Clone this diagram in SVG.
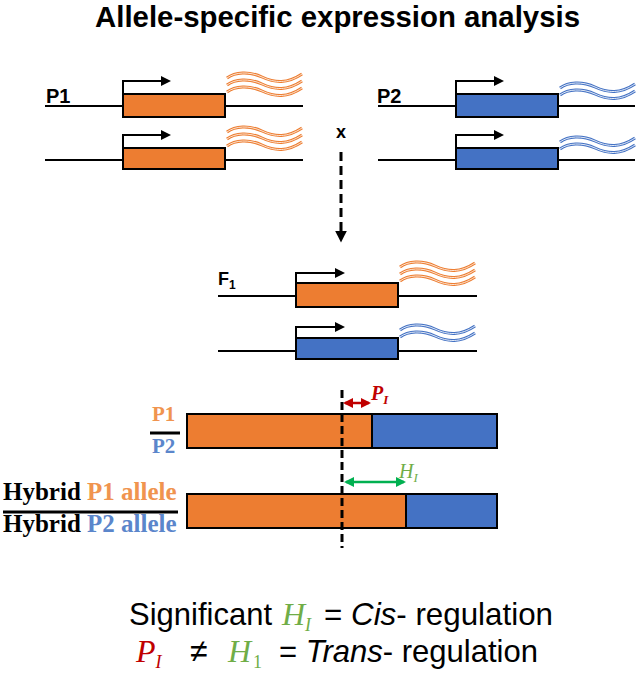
<svg xmlns="http://www.w3.org/2000/svg" xmlns:xlink="http://www.w3.org/1999/xlink" width="640" height="674" viewBox="0 0 640 674">
<defs>
<style>
.dna{stroke:#000;stroke-width:2;fill:none}
.box{stroke:#000;stroke-width:2}
.or{fill:#ED7D31}
.bl{fill:#4472C4}
.prom{stroke:#000;stroke-width:2;fill:none}
.wo{stroke:#ED7D31;stroke-width:3;fill:none}
.wo2{stroke:#FCE4D2;stroke-width:1;fill:none}
.wb{stroke:#4472C4;stroke-width:3;fill:none}
.wb2{stroke:#E1E9F6;stroke-width:1;fill:none}
.sans{font-family:"Liberation Sans",Arial,sans-serif}
.serif{font-family:"Liberation Serif","Times New Roman",serif}
.lbl{font-family:"Liberation Sans",Arial,sans-serif;font-weight:bold;font-size:20px}
.bar{font-family:"Liberation Serif","Times New Roman",serif;font-weight:bold}
.big{font-family:"Liberation Sans",Arial,sans-serif;font-size:32px}
.mi{font-family:"Liberation Serif","Times New Roman",serif;font-style:italic;font-size:32px}
.sub{font-size:18px}
</style>
<marker id="ah" viewBox="0 0 10 10" refX="2" refY="5" markerWidth="5" markerHeight="5" orient="auto" markerUnits="strokeWidth">
<path d="M0,0L10,5L0,10z" fill="#000"/>
</marker>
<marker id="ahd" viewBox="0 0 10 10" refX="2" refY="5" markerWidth="4" markerHeight="4" orient="auto" markerUnits="strokeWidth">
<path d="M0,0L10,5L0,10z" fill="#000"/>
</marker>
<marker id="ar" viewBox="0 0 10 10" refX="8" refY="5" markerWidth="4" markerHeight="4" orient="auto-start-reverse" markerUnits="strokeWidth">
<path d="M0,0L10,5L0,10z" fill="#C00000"/>
</marker>
<marker id="ag" viewBox="0 0 10 10" refX="8" refY="5" markerWidth="4" markerHeight="4" orient="auto-start-reverse" markerUnits="strokeWidth">
<path d="M0,0L10,5L0,10z" fill="#00B050"/>
</marker>
<path id="w" d="M0,5 C8,-1 22,-2 35,4 S60,11 75,1"/>
<g id="wo3">
<use xlink:href="#w" class="wo"/><use xlink:href="#w" class="wo2"/>
<use xlink:href="#w" class="wo" y="7"/><use xlink:href="#w" class="wo2" y="7"/>
<use xlink:href="#w" class="wo" y="14"/><use xlink:href="#w" class="wo2" y="14"/>
</g>
<g id="wb2g">
<use xlink:href="#w" class="wb"/><use xlink:href="#w" class="wb2"/>
<use xlink:href="#w" class="wb" y="7"/><use xlink:href="#w" class="wb2" y="7"/>
</g>
</defs>
<rect width="640" height="674" fill="#fff"/>

<text class="sans" x="95" y="27" font-size="30" font-weight="bold" textLength="485" lengthAdjust="spacingAndGlyphs">Allele-specific expression analysis</text>

<g id="p1">
<text class="lbl" x="46" y="103">P1</text>
<line class="dna" x1="45" y1="106" x2="303" y2="106"/>
<rect class="box or" x="123" y="94" width="102" height="23"/>
<path class="prom" d="M123,94V81H163" marker-end="url(#ah)"/>
<use xlink:href="#wo3" x="227" y="73"/>
<line class="dna" x1="45" y1="160" x2="303" y2="160"/>
<rect class="box or" x="123" y="148" width="102" height="21"/>
<path class="prom" d="M123,148V135H163" marker-end="url(#ah)"/>
<use xlink:href="#wo3" x="227" y="127"/>
</g>

<g id="p2">
<text class="lbl" x="377" y="103">P2</text>
<line class="dna" x1="378" y1="106" x2="635" y2="106"/>
<rect class="box bl" x="456" y="94" width="102" height="23"/>
<path class="prom" d="M456,94V81H496" marker-end="url(#ah)"/>
<use xlink:href="#wb2g" x="560" y="83"/>
<line class="dna" x1="378" y1="160" x2="635" y2="160"/>
<rect class="box bl" x="456" y="148" width="102" height="21"/>
<path class="prom" d="M456,148V135H496" marker-end="url(#ah)"/>
<use xlink:href="#wb2g" x="560" y="137"/>
</g>

<g id="cross">
<text class="lbl" x="336" y="138" style="font-size:18px">x</text>
</g>

<g id="connectors">
<line x1="341" y1="152" x2="341" y2="233" stroke="#000" stroke-width="3" stroke-dasharray="9,5" marker-end="url(#ahd)"/>
</g>

<g id="f1">
<text class="lbl" x="218" y="285" style="font-size:18px">F<tspan style="font-size:12px" dy="4">1</tspan></text>
<line class="dna" x1="218" y1="296" x2="477" y2="296"/>
<rect class="box or" x="296" y="283" width="102" height="24"/>
<path class="prom" d="M296,283V273H337" marker-end="url(#ah)"/>
<use xlink:href="#wo3" x="400" y="262"/>
<line class="dna" x1="218" y1="351" x2="477" y2="351"/>
<rect class="box bl" x="296" y="338" width="102" height="21"/>
<path class="prom" d="M296,338V327H337" marker-end="url(#ah)"/>
<use xlink:href="#wb2g" x="400" y="325"/>
</g>

<g id="parent-bar">
<text class="bar" x="152" y="421" font-size="21" fill="#F0944F">P1</text>
<line x1="150" y1="433" x2="180" y2="433" stroke="#000" stroke-width="3"/>
<text class="bar" x="152" y="453" font-size="21" fill="#5B86CB">P2</text>
<rect class="box or" x="187" y="414" width="185" height="34"/>
<rect class="box bl" x="372" y="414" width="125" height="34"/>
<line x1="345" y1="403" x2="369" y2="403" stroke="#C00000" stroke-width="2.5" marker-start="url(#ar)" marker-end="url(#ar)"/>
<text class="serif" x="371" y="400" font-size="20" font-style="italic" font-weight="bold" fill="#C00000">P<tspan font-size="13" dy="4">I</tspan></text>
</g>

<g id="hybrid-bar">
<text class="bar" x="3" y="500" font-size="25"><tspan fill="#000">Hybrid </tspan><tspan fill="#F0944F">P1 allele</tspan></text>
<line x1="3" y1="512" x2="178" y2="512" stroke="#000" stroke-width="3"/>
<text class="bar" x="3" y="532" font-size="25"><tspan fill="#000">Hybrid </tspan><tspan fill="#5B86CB">P2 allele</tspan></text>
<rect class="box or" x="187" y="494" width="219" height="34"/>
<rect class="box bl" x="406" y="494" width="91" height="34"/>
<line x1="346" y1="482" x2="404" y2="482" stroke="#00B050" stroke-width="2.5" marker-start="url(#ag)" marker-end="url(#ag)"/>
<text class="serif" x="399" y="478" font-size="20" font-style="italic" fill="#70AD47">H<tspan font-size="13" dy="4">I</tspan></text>
</g>

<g id="divider">
<line x1="342" y1="390" x2="342" y2="548" stroke="#000" stroke-width="3" stroke-dasharray="8,4"/>
</g>

<g id="caption">
<text class="big" x="129" y="625" textLength="143" lengthAdjust="spacingAndGlyphs">Significant</text>
<text class="mi" x="282" y="625" fill="#70AD47">H<tspan class="sub" dy="6">I</tspan></text>
<text class="big" x="324" y="625" textLength="229" lengthAdjust="spacingAndGlyphs">= <tspan font-style="italic">Cis</tspan>- regulation</text>

<text class="mi" x="136" y="662" fill="#C00000">P<tspan class="sub" dy="6">I</tspan></text>
<text class="big" x="190" y="662">≠</text>
<text class="mi" x="228" y="662" fill="#70AD47">H<tspan class="sub" dy="6" font-style="normal" dx="2">1</tspan></text>
<text class="big" x="279" y="662" textLength="259" lengthAdjust="spacingAndGlyphs">= <tspan font-style="italic">Trans</tspan>- regulation</text>
</g>
</svg>
